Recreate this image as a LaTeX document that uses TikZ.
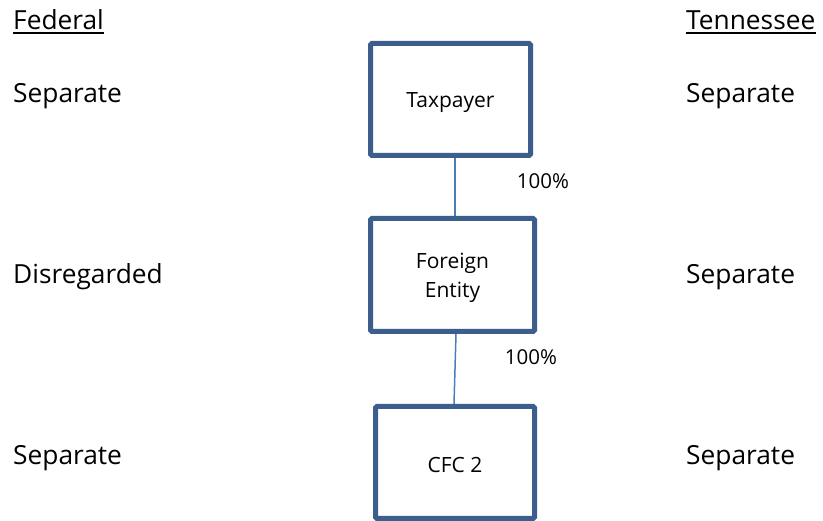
\documentclass[tikz,border=0pt]{standalone}
\usepackage{fontspec}
\setmainfont{Open Sans}
\usetikzlibrary{backgrounds}
\definecolor{boxblue}{HTML}{3B5E8C}
\definecolor{lineblue}{HTML}{4A7EBB}
\begin{document}
\begin{tikzpicture}[x=1pt,y=-1pt,
  side/.style={anchor=base west,inner sep=0pt,font=\fontsize{26.3}{30}\selectfont},
  entity/.style={draw=boxblue,line width=5pt,rounded corners=1.5pt,fill=white,
    align=center,inner sep=0pt,text depth=0pt,font=\fontsize{21}{29}\selectfont},
  pct/.style={anchor=base,inner sep=0pt,font=\fontsize{20.5}{24}\selectfont},
  conn/.style={draw=lineblue,line width=1.5pt},
  uline/.style={draw=black,line width=1.8pt}]
\useasboundingbox (0,0) rectangle (823,521);
% column headers
\node[side] (fed) at (13,29.5) {Federal};
\node[side] (ten) at (686,29.5) {Tennessee};
\draw[uline] ([yshift=-3.5pt]fed.base west) -- ([yshift=-3.5pt]fed.base east);
\draw[uline] ([yshift=-3.5pt]ten.base west) -- ([yshift=-3.5pt]ten.base east);
% side labels
\node[side] (f1) at (13,102.5) {Separate};
\node[side] (f2) at (13,284) {Disregarded};
\node[side] (f3) at (13,465) {Separate};
\node[side] (t1) at (686,102.5) {Separate};
\node[side] (t2) at (686,284) {Separate};
\node[side] (t3) at (686,465) {Separate};
% boxes
\node[entity,text height=15.6pt,minimum width=160pt,minimum height=112pt] (tax) at (450.5,99.5) {Taxpayer};
\node[entity,text height=44.6pt,minimum width=164pt,minimum height=113pt] (fe) at (452.5,275) {Foreign\\Entity};
\node[entity,text height=20pt,minimum width=159pt,minimum height=112pt] (cfc) at (455,462.5) {CFC 2};
% connectors
\begin{scope}[on background layer]
\draw[conn] ([xshift=4.5pt]tax.south) -- ([xshift=2.5pt]fe.north);
\draw[conn] ([xshift=3.5pt]fe.south) -- ([xshift=-1pt]cfc.north);
\end{scope}
% percentages
\node[pct] (p1) at (543,189) {100\%};
\node[pct] (p2) at (531,365) {100\%};
\end{tikzpicture}
\end{document}
